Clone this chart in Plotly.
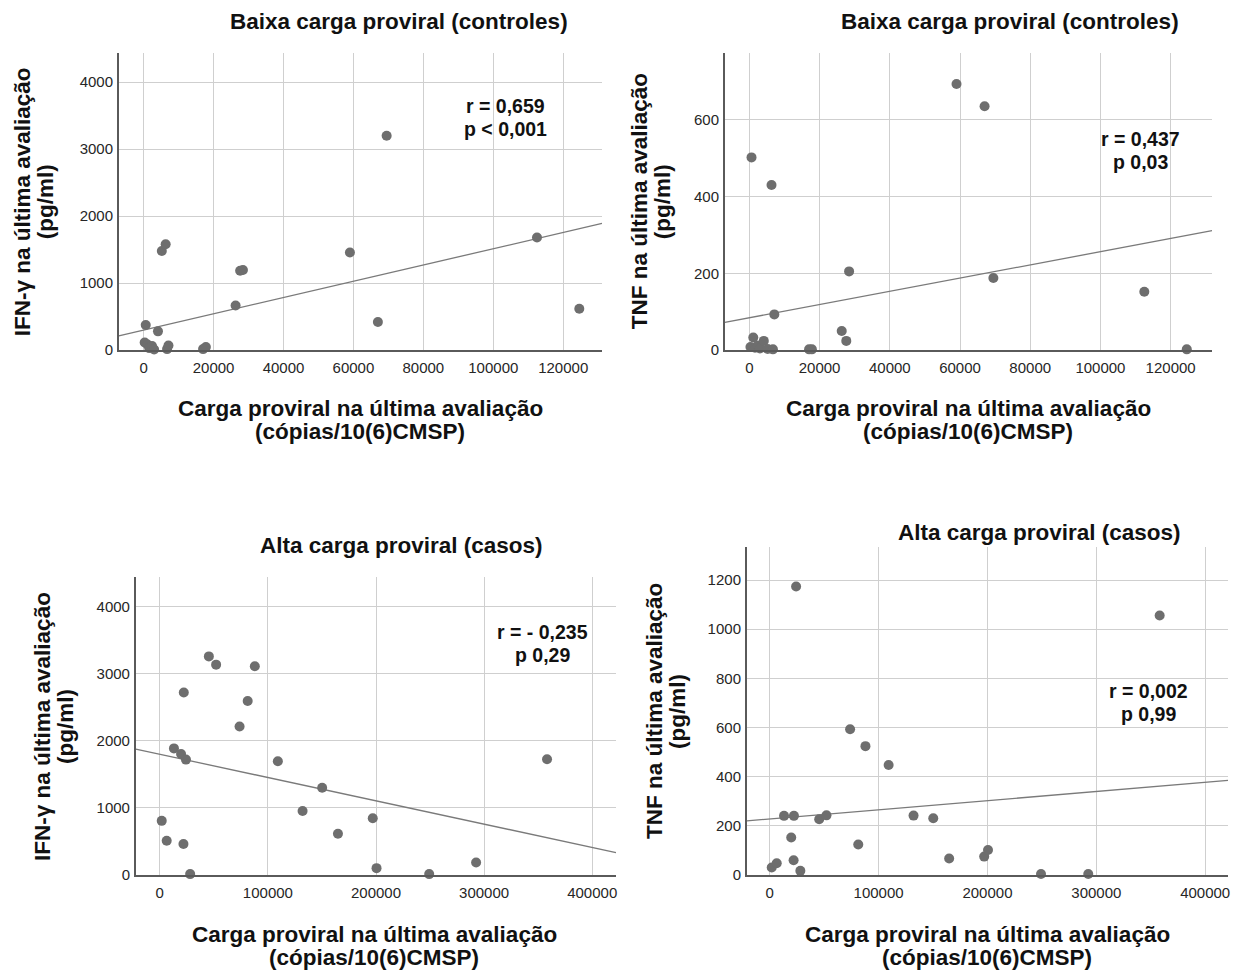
import plotly.graph_objects as go

# ---- data -------------------------------------------------------------
# Low proviral load group (controls): proviral load and cytokines
x_baixa = [300, 600, 1100, 1600, 2400, 3000, 4100, 5200, 6300, 6700, 7100,
           17000, 17800, 26300, 27600, 28400, 59000, 67000, 69500, 112500, 124600]
ifn_baixa = [114, 376, 85, 30, 60, 10, 280, 1480, 1580, 15, 70,
             15, 45, 667, 1185, 1195, 1457, 420, 3200, 1680, 617]
tnf_baixa = [8, 502, 33, 6, 12, 4, 24, 3, 430, 2, 93,
             2, 2, 50, 24, 205, 693, 635, 188, 152, 2]

# High proviral load group (cases)
x_alta = [1800, 6400, 13100, 19700, 21900, 22200, 24200, 28100, 45400, 52100, 73800,
          81300, 87900, 109200, 132100, 150200, 164800, 197000, 200500, 249200, 292600, 358200]
ifn_alta = [805, 509, 1886, 1802, 459, 2721, 1719, 10, 3259, 3136, 2212,
            2593, 3111, 1694, 953, 1299, 612, 844, 99, 10, 183, 1723]
tnf_alta = [30, 47, 240, 152, 59, 240, 1174, 16, 226, 242, 593,
            123, 524, 447, 241, 230, 66, 74, 101, 3, 3, 1056]

# Linear fit lines (intercept, slope)
fit_intercepts = [299, 84.4, 1799, 227.4]
fit_slopes = [0.01214, 0.00172, -0.003477, 0.0003725]

# Correlation labels (two lines each)
stats_r = ["r = 0,659", "r = 0,437", "r = - 0,235", "r = 0,002"]
stats_p = ["p &lt; 0,001", "p 0,03", "p 0,29", "p 0,99"]
panel_titles = ["Baixa carga proviral (controles)", "Baixa carga proviral (controles)",
                "Alta carga proviral (casos)", "Alta carga proviral (casos)"]
y_titles = [["IFN-γ na última avaliação", "(pg/ml)"], ["TNF na última avaliação", "(pg/ml)"],
            ["IFN-γ na última avaliação", "(pg/ml)"], ["TNF na última avaliação", "(pg/ml)"]]
x_title = ["Carga proviral na última avaliação", "(cópias/10(6)CMSP)"]

x_ticks_baixa = [0, 20000, 40000, 60000, 80000, 100000, 120000]
x_ticks_alta = [0, 100000, 200000, 300000, 400000]

# ---- layout geometry (pixels) ------------------------------------------
W, H = 1245, 979
FONT = "Liberation Sans, Arial, sans-serif"
LABEL_SIZE = 22.5
STATS_SIZE = 19.5
LINE_GAP = 23

# plot boxes: left, right, top, bottom
boxes = [(119, 603, 53, 353), (726, 1214, 53, 353),
         (136, 617, 582, 882), (748, 1230, 552, 882)]
x_ranges = [[-7100, 131100], [-7000, 131800], [-22200, 422000], [-21100, 421000]]
y_ranges = [[0, 4440], [0, 775], [0, 4440], [0, 1333]]
y_ticks = [[0, 1000, 2000, 3000, 4000], [0, 200, 400, 600],
           [0, 1000, 2000, 3000, 4000], [0, 200, 400, 600, 800, 1000, 1200]]
# stats text: centre x (data), first-line y (pixels)
stats_cx = [103400, 111400, 353600, 348000]
stats_y1 = [107, 140, 637, 697]
title_pos = [(400, 22), (1012, 22), (402, 550), (1041, 537)]
xlab_pos = [(361, 412), (970, 412), (375, 942), (989, 942)]
ylab_pos = [(22, 203), (640, 203), (42, 732), (655, 717)]


def px(xp):
    return xp / W


def py(yp):
    return 1 - yp / H


xs_all = [x_baixa, x_baixa, x_alta, x_alta]
ys_all = [ifn_baixa, tnf_baixa, ifn_alta, tnf_alta]

fig = go.Figure()
annotations = []
layout_axes = {}


def label(x, y, text, size, xref="paper", angle=0):
    annotations.append(dict(
        x=x, y=y, xref=xref, yref="paper", text="<b>" + text + "</b>",
        showarrow=False, xanchor="center", yanchor="middle", textangle=angle,
        font=dict(family=FONT, size=size, color="#111111"),
    ))


for i in range(4):
    sx = "" if i == 0 else str(i + 1)
    xa, ya = "x" + sx, "y" + sx
    left, right, top, bottom = boxes[i]
    xticks = x_ticks_baixa if i < 2 else x_ticks_alta

    layout_axes["xaxis" + sx] = dict(
        domain=[px(left), px(right)], range=x_ranges[i], anchor=ya,
        tickvals=xticks, ticktext=[str(v) for v in xticks],
        showgrid=True, gridcolor="#cfcfcf", gridwidth=1.3,
        showline=True, linecolor="#5a5a5a", linewidth=1.6,
        zeroline=False, ticks="outside", ticklen=3, tickcolor="rgba(0,0,0,0)",
        tickfont=dict(family=FONT, size=15, color="#262626"),
    )
    layout_axes["yaxis" + sx] = dict(
        domain=[py(bottom), py(top)], range=y_ranges[i], anchor=xa,
        tickvals=y_ticks[i], ticktext=[str(v) for v in y_ticks[i]],
        showgrid=True, gridcolor="#cfcfcf", gridwidth=1.3,
        showline=True, linecolor="#5a5a5a", linewidth=1.6,
        zeroline=False, ticks="outside", ticklen=1, tickcolor="rgba(0,0,0,0)",
        tickfont=dict(family=FONT, size=15, color="#262626"),
    )

    # fit line across the full x range
    x0, x1 = x_ranges[i]
    b0, b1 = fit_intercepts[i], fit_slopes[i]
    fig.add_trace(go.Scatter(
        x=[x0, x1], y=[b0 + b1 * x0, b0 + b1 * x1], mode="lines",
        line=dict(color="#7a7a7a", width=1.3), xaxis=xa, yaxis=ya,
        showlegend=False, hoverinfo="skip", cliponaxis=True,
    ))
    # observations
    fig.add_trace(go.Scatter(
        x=xs_all[i], y=ys_all[i], mode="markers",
        marker=dict(color="#6e6e6e", size=10, line=dict(width=0)),
        xaxis=xa, yaxis=ya, showlegend=False, cliponaxis=False,
    ))

    # correlation text
    label(stats_cx[i], py(stats_y1[i]), stats_r[i], STATS_SIZE, xref=xa)
    label(stats_cx[i], py(stats_y1[i] + LINE_GAP), stats_p[i], STATS_SIZE, xref=xa)
    # panel title
    label(px(title_pos[i][0]), py(title_pos[i][1]), panel_titles[i], LABEL_SIZE)
    # x axis title (two lines)
    for k, line in enumerate(x_title):
        label(px(xlab_pos[i][0]), py(xlab_pos[i][1] + k * LINE_GAP), line, LABEL_SIZE)
    # y axis title (two rotated lines)
    for k, line in enumerate(y_titles[i]):
        label(px(ylab_pos[i][0] + k * LINE_GAP), py(ylab_pos[i][1]), line, LABEL_SIZE, angle=-90)

fig.update_layout(
    width=W, height=H, margin=dict(l=0, r=0, t=0, b=0),
    paper_bgcolor="white", plot_bgcolor="white",
    annotations=annotations, **layout_axes,
)

fig.write_html("out.html")
